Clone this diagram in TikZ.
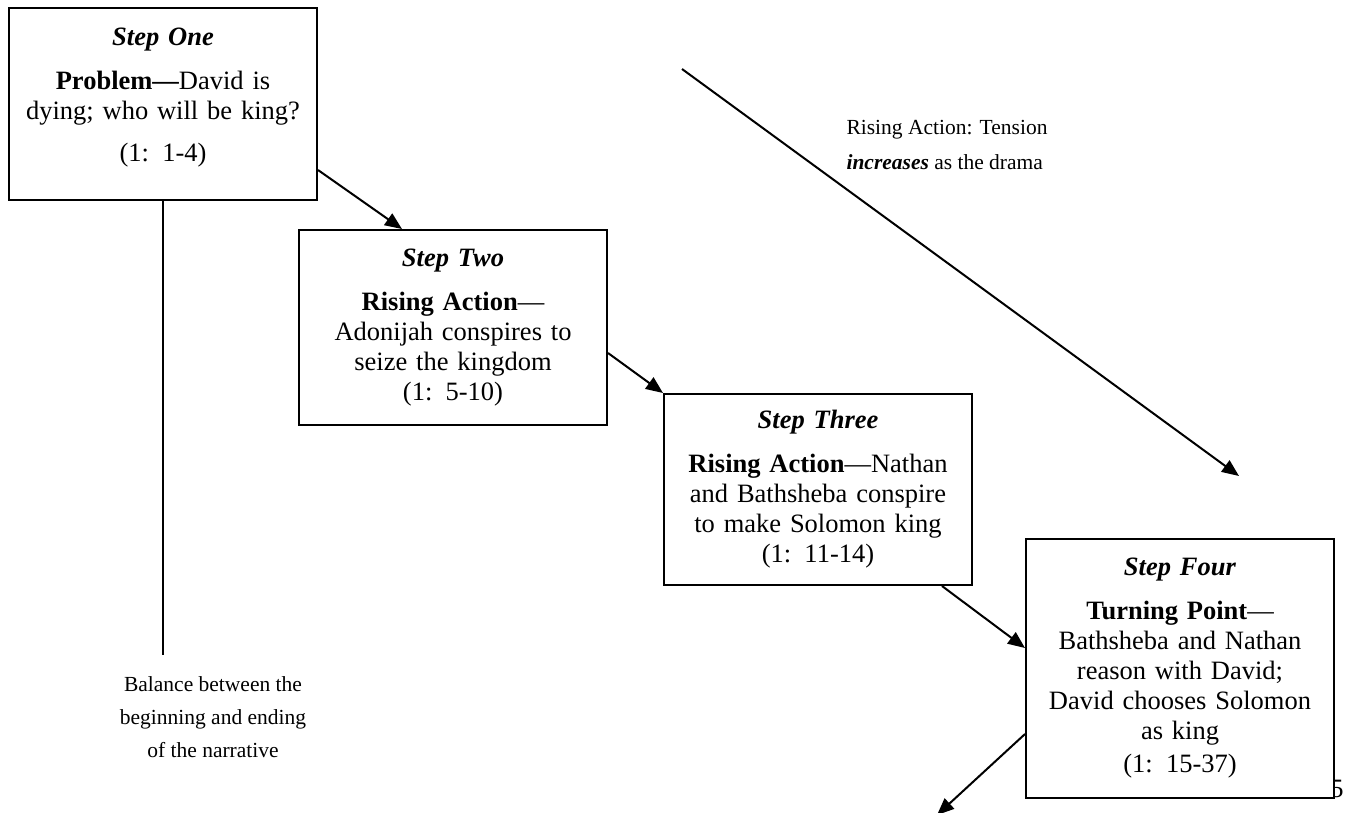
\documentclass[tikz,border=0pt]{standalone}
\usepackage{fontspec}
\setmainfont{Liberation Serif}
\usetikzlibrary{arrows.meta,calc}
\begin{document}
\begin{tikzpicture}[x=1pt,y=-1pt,
  stepbox/.style={draw, line width=2pt, fill=white, minimum width=308pt,
    text width=290pt, inner xsep=9pt, inner ysep=0pt, align=center,
    font=\fontsize{26.5}{30}\selectfont, anchor=north west},
  conn/.style={line width=2pt, -{Triangle[length=17pt,width=14pt]}},
  plain/.style={line width=2pt},
  note/.style={align=center, font=\fontsize{21.5}{33}\selectfont}]
\useasboundingbox (0,0) rectangle (1348,812);

\node[font=\fontsize{26.5}{30}\selectfont, anchor=base] (pg) at (1337,797) {5};

\node[stepbox, minimum height=192pt] (b1) at (8,7)
  {\textbf{\textit{Step One}}\\[14pt]
   \textbf{Problem—}David is\\ dying; who will be king?\\[12pt] (1: 1-4)\\[-12pt]\mbox{}};
\node[stepbox, minimum height=195pt] (b2) at (298,229)
  {\textbf{\textit{Step Two}}\\[14pt]
   \textbf{Rising Action}—\\ Adonijah conspires to\\ seize the kingdom\\ (1: 5-10)};
\node[stepbox, minimum height=191pt] (b3) at (663,393)
  {\textbf{\textit{Step Three}}\\[14pt]
   \textbf{Rising Action}—Nathan\\ and Bathsheba conspire\\ to make Solomon king\\ (1: 11-14)};
\node[stepbox, minimum height=259pt] (b4) at (1025,538)
  {\textbf{\textit{Step Four}}\\[14pt]
   \textbf{Turning Point}—\\ Bathsheba and Nathan\\ reason with David;\\ David chooses Solomon\\ as king\\[3pt] (1: 15-37)};

\node[note, anchor=north] (bal) at (213,673)
  {Balance between the\\ beginning and ending\\ of the narrative};
\node[note, align=left, anchor=north west, font=\fontsize{21.5}{35}\selectfont] (rise) at (843,117)
  {Rising Action: Tension\\ \textbf{\textit{increases}} as the drama};

\coordinate (balTop) at (163,655);
\coordinate (bigStart) at (682,69);
\coordinate (bigEnd) at (1239,476);
\coordinate (outEnd) at (937,815);

\draw[plain] (b1.south) -- (balTop);
\draw[conn] ([yshift=31pt]b1.south east) -- ([xshift=104pt]b2.north west);
\draw[conn] ([yshift=73pt]b2.south east) -- (b3.north west);
\draw[conn] ([xshift=-31pt]b3.south east) -- ([yshift=-110pt]b4.north west);
\draw[conn] ([yshift=65pt]b4.south west) -- (outEnd);
\draw[conn] (bigStart) -- (bigEnd);
\end{tikzpicture}
\end{document}
